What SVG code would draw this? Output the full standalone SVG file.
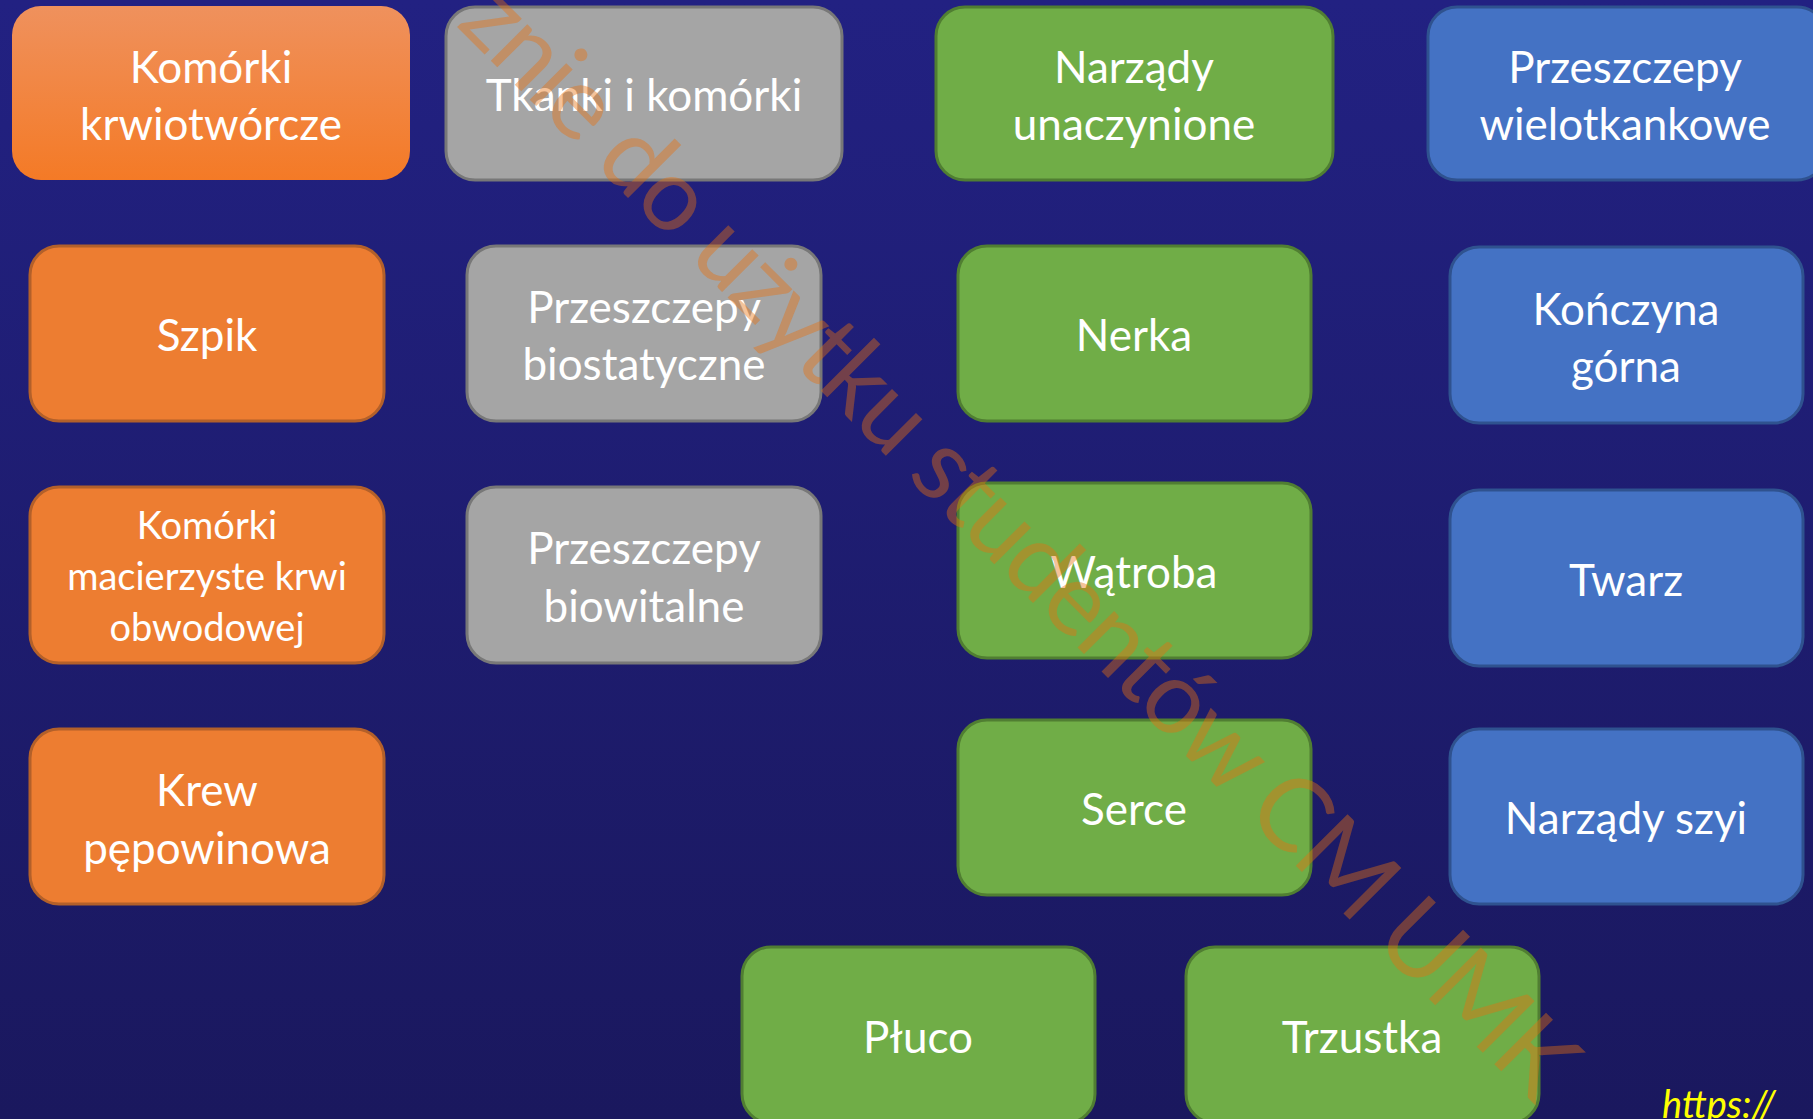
<svg xmlns="http://www.w3.org/2000/svg" width="1813" height="1119" viewBox="0 0 1813 1119">
  <defs>
    <linearGradient id="bg" x1="0" y1="0" x2="0" y2="1">
      <stop offset="0" stop-color="#222182"/>
      <stop offset="1" stop-color="#1A185E"/>
    </linearGradient>
    <linearGradient id="orangeGrad" x1="0" y1="0" x2="0" y2="1">
      <stop offset="0" stop-color="#EF915D"/>
      <stop offset="1" stop-color="#F47A26"/>
    </linearGradient>
    <style>
      .box { stroke-width: 3; }
      .orange { fill: #ED7D31; stroke: #B3602A; }
      .orangeHead { fill: url(#orangeGrad); stroke: none; }
      .gray { fill: #A5A5A5; stroke: #787878; }
      .green { fill: #70AD47; stroke: #507E32; }
      .blue { fill: #4472C4; stroke: #2F528F; }
      .lbl { font-family: Lato, "Open Sans", "Liberation Sans", sans-serif; font-size: 44px; fill: #FFFFFF; text-anchor: middle; }
      .lbl3 { font-size: 38px; }
      .wm { font-family: Lato, "Open Sans", "Liberation Sans", sans-serif; font-size: 102px; fill: #E8700F; fill-opacity: 0.42; }
      .url { font-family: Lato, "Liberation Sans", sans-serif; font-style: italic; font-size: 38px; fill: #FFFF00; }
    </style>
  </defs>

  <rect x="0" y="0" width="1813" height="1119" fill="url(#bg)"/>

  <g id="nodes">
    <g id="komorki-krwiotworcze">
      <rect class="box orangeHead" x="12" y="6" width="398" height="174" rx="29"/>
      <text class="lbl" x="211" y="83">Komórki</text>
      <text class="lbl" x="211" y="140">krwiotwórcze</text>
    </g>
    <g id="szpik">
      <rect class="box orange" x="30" y="246" width="354" height="175" rx="29"/>
      <text class="lbl" x="207" y="351">Szpik</text>
    </g>
    <g id="komorki-macierzyste">
      <rect class="box orange" x="30" y="487" width="354" height="176" rx="29"/>
      <text class="lbl lbl3" x="207" y="539">Komórki</text>
      <text class="lbl lbl3" x="207" y="590">macierzyste krwi</text>
      <text class="lbl lbl3" x="207" y="641">obwodowej</text>
    </g>
    <g id="krew-pepowinowa">
      <rect class="box orange" x="30" y="729" width="354" height="175" rx="29"/>
      <text class="lbl" x="207" y="806">Krew</text>
      <text class="lbl" x="207" y="864">pępowinowa</text>
    </g>

    <g id="tkanki-i-komorki">
      <rect class="box gray" x="446" y="7" width="396" height="173" rx="29"/>
      <text class="lbl" x="644" y="111">Tkanki i komórki</text>
    </g>
    <g id="przeszczepy-biostatyczne">
      <rect class="box gray" x="467" y="246" width="354" height="175" rx="29"/>
      <text class="lbl" x="644" y="323">Przeszczepy</text>
      <text class="lbl" x="644" y="380">biostatyczne</text>
    </g>
    <g id="przeszczepy-biowitalne">
      <rect class="box gray" x="467" y="487" width="354" height="176" rx="29"/>
      <text class="lbl" x="644" y="564">Przeszczepy</text>
      <text class="lbl" x="644" y="622">biowitalne</text>
    </g>

    <g id="narzady-unaczynione">
      <rect class="box green" x="936" y="7" width="397" height="173" rx="29"/>
      <text class="lbl" x="1134" y="83">Narządy</text>
      <text class="lbl" x="1134" y="140">unaczynione</text>
    </g>
    <g id="nerka">
      <rect class="box green" x="958" y="246" width="353" height="175" rx="29"/>
      <text class="lbl" x="1134" y="351">Nerka</text>
    </g>
    <g id="watroba">
      <rect class="box green" x="958" y="483" width="353" height="175" rx="29"/>
      <text class="lbl" x="1134" y="588">Wątroba</text>
    </g>
    <g id="serce">
      <rect class="box green" x="958" y="720" width="353" height="175" rx="29"/>
      <text class="lbl" x="1134" y="825">Serce</text>
    </g>
    <g id="pluco">
      <rect class="box green" x="742" y="947" width="353" height="176" rx="29"/>
      <text class="lbl" x="918" y="1053">Płuco</text>
    </g>
    <g id="trzustka">
      <rect class="box green" x="1186" y="947" width="353" height="176" rx="29"/>
      <text class="lbl" x="1362" y="1053">Trzustka</text>
    </g>

    <g id="przeszczepy-wielotkankowe">
      <rect class="box blue" x="1428" y="7" width="398" height="173" rx="29"/>
      <text class="lbl" x="1625" y="83">Przeszczepy</text>
      <text class="lbl" x="1625" y="140">wielotkankowe</text>
    </g>
    <g id="konczyna-gorna">
      <rect class="box blue" x="1450" y="247" width="353" height="176" rx="29"/>
      <text class="lbl" x="1626" y="325">Kończyna</text>
      <text class="lbl" x="1626" y="382">górna</text>
    </g>
    <g id="twarz">
      <rect class="box blue" x="1450" y="490" width="353" height="176" rx="29"/>
      <text class="lbl" x="1626" y="596">Twarz</text>
    </g>
    <g id="narzady-szyi">
      <rect class="box blue" x="1450" y="729" width="353" height="175" rx="29"/>
      <text class="lbl" x="1626" y="834">Narządy szyi</text>
    </g>
  </g>

  <g id="connectors"/>

  <text class="wm" transform="translate(455,25) rotate(45)" textLength="1528" lengthAdjust="spacing">znie do użytku studentów CM UMK</text>

  <text class="url" x="1662" y="1118">https://</text>
</svg>
